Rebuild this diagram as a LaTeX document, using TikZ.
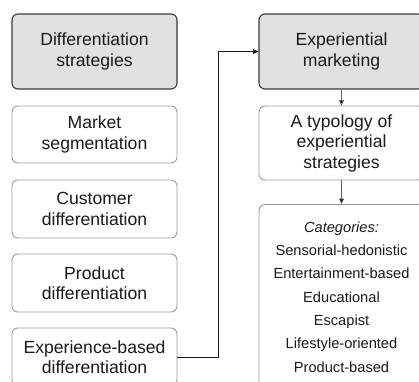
\documentclass[tikz,border=0pt]{standalone}
\usepackage{fontspec}
\setmainfont{Liberation Sans}
\usetikzlibrary{arrows.meta}
\definecolor{boxgray}{HTML}{E1E1E1}
\definecolor{darkedge}{HTML}{3A3A3A}
\definecolor{lightedge}{HTML}{9A9A9A}
\definecolor{ink}{HTML}{1A1A1A}
\begin{document}
\begin{tikzpicture}[x=1pt, y=-1pt,
  basebox/.style={rounded corners=6pt, minimum width=165pt, inner sep=0pt,
    align=center, text=ink, font=\fontsize{17.6}{20.5}\selectfont},
  headbox/.style={basebox, draw=darkedge, fill=boxgray, line width=1.1pt, minimum height=75pt},
  itembox/.style={basebox, draw=lightedge, fill=white, line width=0.9pt, minimum height=58pt},
  link/.style={draw=ink, line width=0.8pt, -{Triangle[length=5.5pt,width=5pt]}},
  downlink/.style={draw=darkedge!80, line width=0.8pt, -{Triangle[length=5.5pt,width=5pt,fill=black]}}
]
\useasboundingbox (0,0) rectangle (419,381);
\clip (0,0) rectangle (419,381);
\fill[white] (0,0) rectangle (419,381);

% left column: strategy boxes
\node[headbox] (diff) at (94.5,51.5) {Differentiation\\strategies};
\node[itembox, minimum height=57pt] (market) at (94.5,134.5) {Market\\segmentation};
\node[itembox] (customer) at (94.5,209) {Customer\\differentiation};
\node[itembox] (product) at (94.5,283) {Product\\differentiation};
\node[itembox] (experience) at (94.5,357) {Experience-based\\differentiation};

% right column: experiential marketing
\node[headbox] (expmkt) at (341.5,51.5) {Experiential\\marketing};
\node[itembox, minimum height=74pt] (typology) at (341.5,143) {A typology of\\experiential\\strategies};
\node[basebox, draw=lightedge, fill=white, line width=0.9pt, anchor=north,
      inner ysep=10pt, minimum height=185pt,
      font=\fontsize{14.65}{23.3}\selectfont] (categories) at (341.5,204)
  {\textit{Categories:}\\Sensorial-hedonistic\\Entertainment-based\\Educational\\Escapist\\Lifestyle-oriented\\Product-based};

% connectors
\coordinate (bend) at (218,51.5);
\draw[link] (experience.east) -| (bend) -- (expmkt.west);
\draw[downlink] (expmkt.south) -- (typology.north);
\draw[downlink] (typology.south) -- (categories.north);
\end{tikzpicture}
\end{document}
